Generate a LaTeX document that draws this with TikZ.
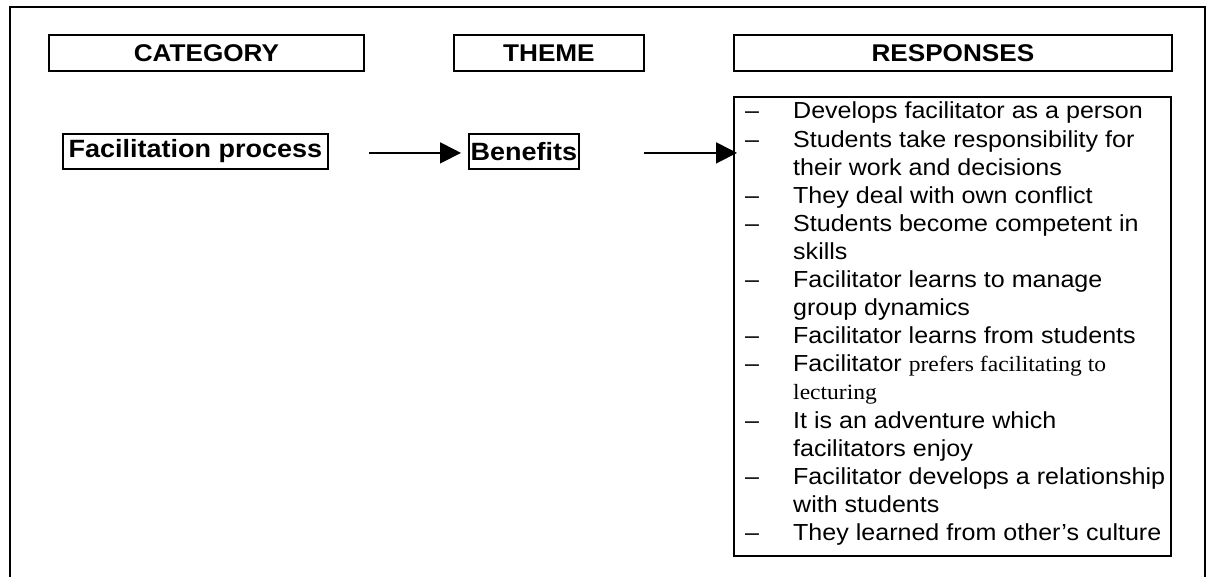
\documentclass[tikz,border=0pt]{standalone}
\usepackage{fontspec}
\setmainfont{Liberation Sans}[FakeStretch=1.08]
\newfontfamily\timesfont{Liberation Serif}[FakeStretch=1.08]
\usetikzlibrary{arrows.meta}

\begin{document}
\begin{tikzpicture}[x=1pt,y=-1pt,
  hdr/.style={draw, line width=1.8pt, inner sep=0pt, minimum height=36pt,
    anchor=north west, font=\fontsize{24.2}{29}\selectfont\bfseries},
  itembox/.style={draw, line width=1.8pt, inner sep=0pt, minimum height=35pt,
    anchor=north west, font=\fontsize{25}{30}\selectfont\bfseries},
  flow/.style={line width=1.8pt, -{Triangle[length=21pt,width=21pt]}}]
  \useasboundingbox (0,0) rectangle (1211,577);

  % outer frame (runs off the lower edge)
  \draw[line width=1.8pt] (10,7) rectangle (1205,620);

  % column headings
  \node[hdr, minimum width=315pt] (hcat) at (48,34) {CATEGORY};
  \node[hdr, minimum width=190pt] (hthe) at (453,34) {THEME};
  \node[hdr, minimum width=438pt] (hres) at (733,34) {RESPONSES};

  % category and theme
  \node[itembox, minimum width=265pt] (fac) at (62,133) {Facilitation process};
  \node[itembox, minimum width=110pt] (ben) at (468,133) {Benefits};

  % list of responses
  \node[draw, line width=1.8pt, inner sep=0pt, anchor=north west,
        minimum width=437pt, minimum height=459pt] (resp) at (733,96) {};
  \node[anchor=base west, inner sep=0pt,
        font=\fontsize{23.2}{28.1}\selectfont] (items) at (745,119) {%
    \begin{tabular}[t]{@{}p{48pt}@{}l@{}}
      – & Develops facilitator as a person\\
      – & Students take responsibility for\\
        & their work and decisions\\
      – & They deal with own conflict\\
      – & Students become competent in\\
        & skills\\
      – & Facilitator learns to manage\\
        & group dynamics\\
      – & Facilitator learns from students\\
      – & Facilitator {\fontsize{21.8}{28.1}\selectfont\timesfont prefers facilitating to}\\
        & {\fontsize{21.8}{28.1}\selectfont\timesfont lecturing}\\
      – & It is an adventure which\\
        & facilitators enjoy\\
      – & Facilitator develops a relationship\\
        & with students\\
      – & They learned from other’s culture
    \end{tabular}};

  % connectors
  \draw[flow, shorten <=40pt, shorten >=7pt] ([yshift=-1.5pt]fac.east) -- ([yshift=-1.5pt]ben.west);
  \draw[flow, shorten <=64pt, shorten >=-4pt] ([yshift=-1.5pt]ben.east) -- ([yshift=-1.5pt]ben.east -| resp.west);
\end{tikzpicture}
\end{document}
